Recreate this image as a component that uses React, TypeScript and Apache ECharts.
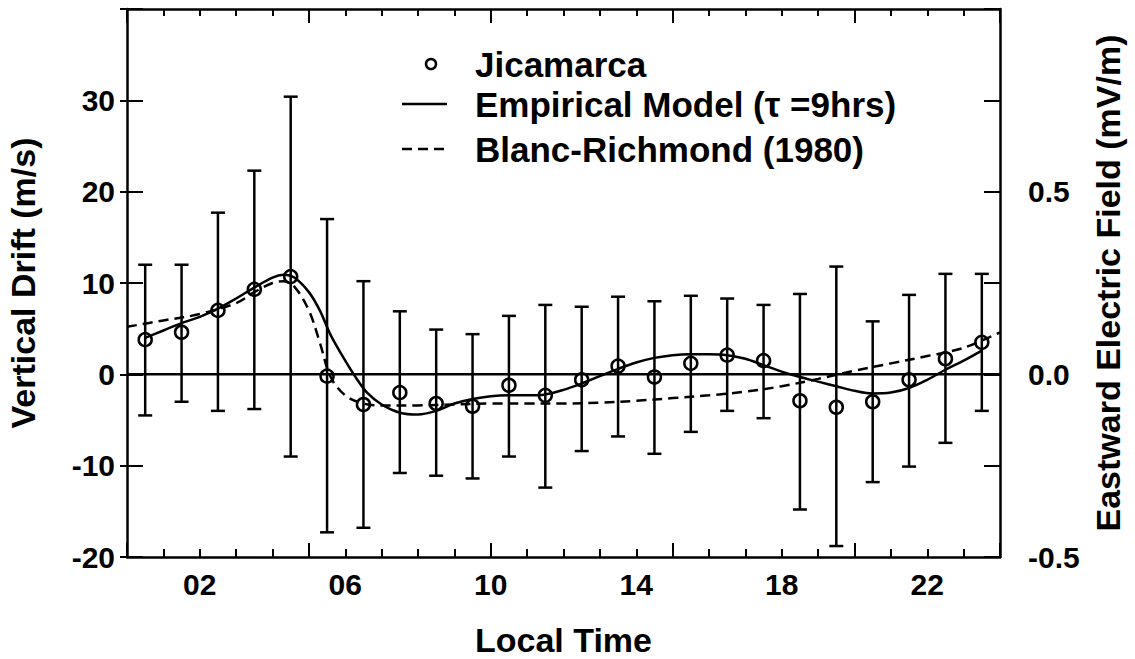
import React, { useEffect, useRef } from "react";
import * as echarts from "echarts";

// Jicamarca observations (local time hours)
const hours = [0.5, 1.5, 2.5, 3.5, 4.5, 5.5, 6.5, 7.5, 8.5, 9.5, 10.5, 11.5, 12.5, 13.5, 14.5, 15.5, 16.5, 17.5, 18.5, 19.5, 20.5, 21.5, 22.5, 23.5];
const drift = [3.8, 4.6, 7.0, 9.3, 10.7, -0.2, -3.3, -2.0, -3.2, -3.5, -1.2, -2.3, -0.6, 0.9, -0.3, 1.2, 2.1, 1.5, -2.9, -3.6, -3.0, -0.6, 1.7, 3.5];
const errHigh = [12.0, 12.0, 17.7, 22.3, 30.4, 17.0, 10.2, 6.9, 4.9, 4.4, 6.4, 7.6, 7.4, 8.5, 8.0, 8.6, 8.3, 7.6, 8.8, 11.8, 5.8, 8.7, 11.0, 11.0];
const errLow = [-4.5, -3.0, -4.0, -3.8, -9.0, -17.3, -16.8, -10.8, -11.1, -11.4, -9.0, -12.4, -8.4, -6.8, -8.7, -6.3, -4.0, -4.8, -14.8, -18.8, -11.8, -10.1, -7.5, -4.0];

// Empirical Model (tau = 9 hrs)
const modelHours = [0.5, 1.0, 1.5, 2.0, 2.5, 3.0, 3.5, 4.0, 4.3, 4.6, 5.0, 5.3, 5.6, 6.0, 6.3, 6.6, 7.0, 7.5, 8.0, 8.5, 9.0, 9.5, 10.0, 10.5, 11.0, 11.5, 12.0, 12.5, 13.0, 13.5, 14.0, 14.5, 15.0, 15.5, 16.0, 16.5, 17.0, 17.5, 18.0, 18.5, 19.0, 19.5, 20.0, 20.5, 21.0, 21.5, 22.0, 22.5, 23.0, 23.5];
const modelValues = [4.0, 4.8, 5.6, 6.3, 7.2, 8.3, 9.5, 10.6, 10.9, 10.6, 9.0, 7.0, 4.3, 1.5, -0.4, -2.0, -3.3, -4.2, -4.4, -4.0, -3.2, -2.7, -2.4, -2.3, -2.3, -2.2, -1.7, -1.0, -0.2, 0.6, 1.3, 1.8, 2.1, 2.2, 2.2, 2.1, 1.7, 1.0, 0.3, -0.3, -0.8, -1.3, -1.8, -2.1, -2.0, -1.5, -0.6, 0.5, 1.5, 2.6];

// Blanc-Richmond (1980)
const brHours = [0, 1, 2, 3, 3.5, 4.0, 4.3, 4.6, 5.0, 5.3, 5.6, 6.0, 6.5, 7, 8, 9, 10, 11, 12, 13, 14, 15, 16, 17, 18, 19, 20, 21, 22, 23, 24];
const brValues = [5.2, 5.9, 6.6, 7.8, 9.0, 10.0, 10.2, 9.6, 7.0, 3.5, -0.3, -2.3, -3.2, -3.4, -3.4, -3.3, -3.2, -3.2, -3.2, -3.1, -2.9, -2.6, -2.3, -1.9, -1.3, -0.5, 0.4, 1.2, 2.0, 2.9, 4.6];

const xLabels = ["02", "06", "10", "14", "18", "22"];
const rightLabels = [-0.5, 0.0, 0.5];

const legendItems = ["Jicamarca", "Empirical Model (\u03c4 =9hrs)", "Blanc-Richmond (1980)"];

const FONT = "'Liberation Sans', Arial, Helvetica, sans-serif";
const LW = 2.5;

export default function App() {
  const ref = useRef<HTMLDivElement>(null);

  useEffect(() => {
    if (!ref.current) return;
    const chart = echarts.init(ref.current, null, { renderer: "svg" });

    const tickLabelStyle = { color: "#000", fontFamily: FONT, fontSize: 30, fontWeight: "bold" as const };
    const nameStyle = { color: "#000", fontFamily: FONT, fontSize: 34, fontWeight: "bold" as const };

    const baseX = {
      type: "value" as const,
      min: 0,
      max: 24,
      splitLine: { show: false },
    };
    const baseY = {
      type: "value" as const,
      min: -20,
      max: 40,
      interval: 10,
      splitLine: { show: false },
    };

    const option: any = {
      animation: false,
      backgroundColor: "#fff",
      grid: { left: 127, right: 135, top: 9, bottom: 102, containLabel: false, outerBoundsMode: "none" },
      xAxis: [
        {
          ...baseX,
          position: "bottom",
          interval: 1,
          axisLine: { show: true, onZero: false, lineStyle: { color: "#000", width: LW } },
          axisTick: { show: true, inside: true, length: 8, lineStyle: { color: "#000", width: 2 } },
          axisLabel: {
            ...tickLabelStyle,
            margin: 12,
            formatter: (v: number) => {
              const s = String(v).padStart(2, "0");
              return xLabels.includes(s) ? s : "";
            },
          },
          name: "Local Time",
          nameLocation: "middle",
          nameGap: 66,
          nameTextStyle: nameStyle,
        },
        {
          ...baseX,
          position: "bottom",
          interval: 5,
          axisLine: { show: false, onZero: false },
          axisTick: { show: true, inside: true, length: 14, lineStyle: { color: "#000", width: 2 } },
          axisLabel: { show: false },
        },
        {
          ...baseX,
          position: "top",
          interval: 1,
          axisLine: { show: true, onZero: false, lineStyle: { color: "#000", width: LW } },
          axisTick: { show: true, inside: true, length: 7, lineStyle: { color: "#000", width: 2 } },
          axisLabel: { show: false },
        },
        {
          ...baseX,
          position: "top",
          interval: 5,
          axisLine: { show: false, onZero: false },
          axisTick: { show: true, inside: true, length: 14, lineStyle: { color: "#000", width: 2 } },
          axisLabel: { show: false },
        },
      ],
      yAxis: [
        {
          ...baseY,
          position: "left",
          axisLine: { show: true, onZero: false, lineStyle: { color: "#000", width: LW } },
          axisTick: { show: true, inside: false, length: 7, lineStyle: { color: "#000", width: 2 } },
          axisLabel: {
            ...tickLabelStyle,
            margin: 12,
            formatter: (v: number) => (v >= 40 ? "" : String(v)),
          },
          name: "Vertical Drift (m/s)",
          nameLocation: "middle",
          nameGap: 87,
          nameRotate: 90,
          nameTextStyle: nameStyle,
        },
        {
          type: "value",
          position: "right",
          min: -0.5,
          max: 1.0,
          interval: 0.25,
          splitLine: { show: false },
          axisLine: { show: true, onZero: false, lineStyle: { color: "#000", width: LW } },
          axisTick: { show: true, inside: true, length: 16, lineStyle: { color: "#000", width: 2 } },
          axisLabel: {
            ...tickLabelStyle,
            margin: 28,
            formatter: (v: number) => (rightLabels.some((t) => Math.abs(t - v) < 1e-6) ? v.toFixed(1) : ""),
          },
          name: "Eastward Electric Field (mV/m)",
          nameLocation: "middle",
          nameGap: 88,
          nameRotate: 90,
          nameTextStyle: nameStyle,
        },
        {
          ...baseY,
          position: "left",
          axisLine: { show: false, onZero: false },
          axisTick: { show: true, inside: true, length: 16, lineStyle: { color: "#000", width: 2 } },
          axisLabel: { show: false },
        },
      ],
      series: [
        {
          type: "line",
          name: "zero",
          xAxisIndex: 0,
          yAxisIndex: 0,
          data: [[0, 0], [24, 0]],
          symbol: "none",
          lineStyle: { color: "#000", width: LW },
          silent: true,
        },
        {
          type: "line",
          name: "Blanc-Richmond (1980)",
          xAxisIndex: 0,
          yAxisIndex: 0,
          data: brHours.map((h, i) => [h, brValues[i]]),
          symbol: "none",
          smooth: 0.35,
          lineStyle: { color: "#000", width: LW, type: [10, 6] },
        },
        {
          type: "line",
          name: "Empirical Model",
          xAxisIndex: 0,
          yAxisIndex: 0,
          data: modelHours.map((h, i) => [h, modelValues[i]]),
          symbol: "none",
          smooth: 0.35,
          lineStyle: { color: "#000", width: LW },
        },
        {
          type: "custom",
          name: "error bars",
          xAxisIndex: 0,
          yAxisIndex: 0,
          data: hours.map((h, i) => [h, errLow[i], errHigh[i]]),
          renderItem: (_params: any, api: any) => {
            const x = api.value(0);
            const lo = api.coord([x, api.value(1)]);
            const hi = api.coord([x, api.value(2)]);
            const cw = 7;
            const style = { stroke: "#000", lineWidth: LW };
            return {
              type: "group",
              children: [
                { type: "line", shape: { x1: lo[0], y1: lo[1], x2: hi[0], y2: hi[1] }, style },
                { type: "line", shape: { x1: hi[0] - cw, y1: hi[1], x2: hi[0] + cw, y2: hi[1] }, style },
                { type: "line", shape: { x1: lo[0] - cw, y1: lo[1], x2: lo[0] + cw, y2: lo[1] }, style },
              ],
            };
          },
        },
        {
          type: "scatter",
          name: "Jicamarca",
          xAxisIndex: 0,
          yAxisIndex: 0,
          data: hours.map((h, i) => [h, drift[i]]),
          symbol: "circle",
          symbolSize: 13,
          itemStyle: { color: "rgba(0,0,0,0)", borderColor: "#000", borderWidth: LW, opacity: 1 },
        },
      ],
      graphic: [
        { type: "circle", shape: { cx: 431, cy: 64, r: 5 }, style: { fill: "none", stroke: "#000", lineWidth: 2.5 } },
        { type: "line", shape: { x1: 402, y1: 104, x2: 447, y2: 104 }, style: { stroke: "#000", lineWidth: 2.5 } },
        { type: "line", shape: { x1: 402, y1: 149, x2: 447, y2: 149 }, style: { stroke: "#000", lineWidth: 2.5, lineDash: [10, 6] } },
        ...legendItems.map((t, i) => ({
          type: "text",
          x: 475,
          y: [64, 104, 149][i],
          style: {
            text: t,
            fill: "#000",
            font: `bold 35px ${FONT}`,
            textVerticalAlign: "middle",
            verticalAlign: "middle",
          },
        })),
      ],
    };

    chart.setOption(option);
    return () => chart.dispose();
  }, []);

  return <div ref={ref} style={{ width: 1135, height: 659, position: "absolute", left: 0, top: 0 }} />;
}
